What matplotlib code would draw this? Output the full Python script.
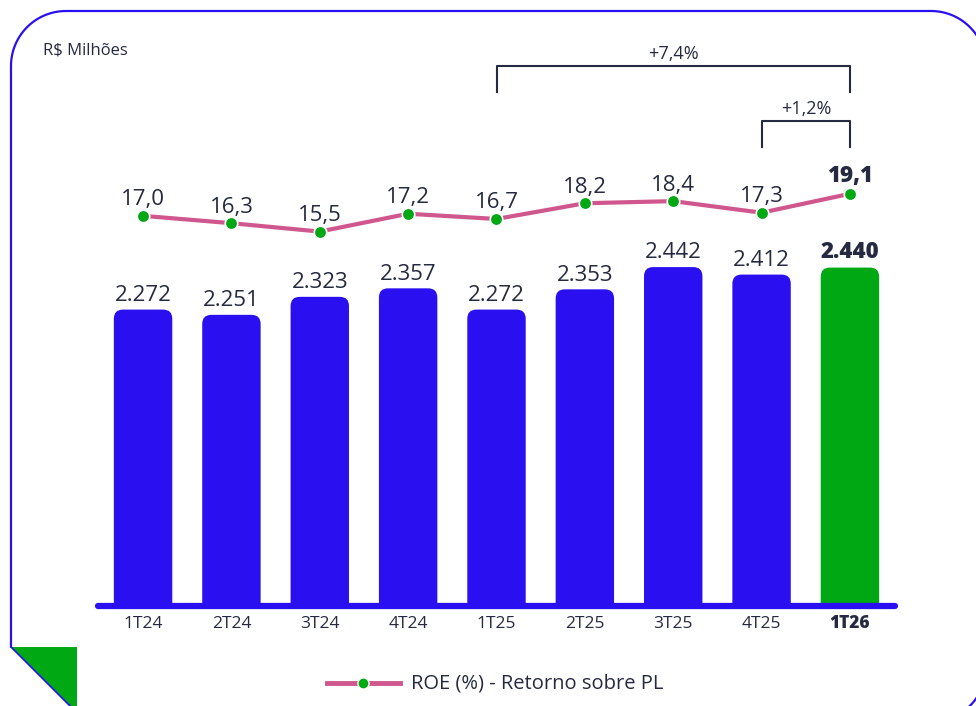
import numpy as np
import matplotlib.pyplot as plt
from matplotlib.patches import FancyBboxPatch, Polygon

plt.rcParams['font.family'] = ['Open Sans', 'DejaVu Sans']

quarters = ["1T24", "2T24", "3T24", "4T24", "1T25", "2T25", "3T25", "4T25", "1T26"]
lucro = [2272, 2251, 2323, 2357, 2272, 2353, 2442, 2412, 2440]
lucro_labels = ["2.272", "2.251", "2.323", "2.357", "2.272", "2.353", "2.442", "2.412", "2.440"]
roe = [17.0, 16.3, 15.5, 17.2, 16.7, 18.2, 18.4, 17.3, 19.1]
roe_labels = ["17,0", "16,3", "15,5", "17,2", "16,7", "18,2", "18,4", "17,3", "19,1"]
brackets = [(4, 8, "+7,4%"), (7, 8, "+1,2%")]

BLUE = "#2a10f0"
GREEN = "#00a814"
PINK = "#d0578e"
DARK = "#262a40"

W, H = 976, 706
fig = plt.figure(figsize=(W / 100, H / 100), dpi=100)

# decoration layer in pixel coords
deco = fig.add_axes([0, 0, 1, 1])
deco.set_xlim(0, W)
deco.set_ylim(H, 0)
deco.axis("off")

R = 55
def arc(cx, cy, a0, a1):
    t = np.radians(np.linspace(a0, a1, 30))
    return np.column_stack([cx + R * np.cos(t), cy + R * np.sin(t)])

left, top, right, bottom = 11, 11, 986, 722
pts = [np.array([[11, 647], [11, top + R]])]
pts.append(arc(left + R, top + R, 180, 270))
pts.append(arc(right - R, top + R, 270, 360))
pts.append(arc(right - R, bottom - R, 0, 90))
border = np.vstack(pts)
deco.plot(border[:, 0], border[:, 1], color=BLUE, lw=1.6, solid_capstyle="round")
deco.add_patch(Polygon([[11, 647], [77, 647], [77, 713]], closed=True, color=GREEN, lw=0))
deco.plot([11, 77], [647, 713], color=BLUE, lw=1.2)

deco.text(43, 51, "R$ Milhões", fontsize=12, color=DARK, va="center", ha="left")

# main axes
ax = fig.add_axes([98 / W, 100 / H, (895 - 98) / W, 576 / H])
ax.set_xlim(-0.51, 8.51)
ybot, ytop = 1083, 3387
ax.set_ylim(ybot, ytop)
ax.axis("off")

x = np.arange(len(quarters))
bw = 0.68
rad_x = 10 / 88.4
rad_y = 10 / 0.25
for i, v in enumerate(lucro):
    col = GREEN if i == len(lucro) - 1 else BLUE
    p = FancyBboxPatch((x[i] - bw / 2, ybot - 100), bw, v - ybot + 100,
                       boxstyle=f"round,pad=0,rounding_size={rad_x}",
                       mutation_aspect=rad_y / rad_x,
                       facecolor=col, edgecolor="white", lw=1.2, clip_on=True)
    ax.add_patch(p)
    bold = i == len(lucro) - 1
    ax.annotate(lucro_labels[i], (x[i], v), xytext=(0, 2), textcoords="offset points",
                ha="center", va="bottom", fontsize=16, color=DARK,
                fontweight="heavy" if bold else "normal")

ax.plot([-0.51, 8.51], [ybot, ybot], color=BLUE, lw=4.5, solid_capstyle="round",
        clip_on=False, zorder=5)

for i, q in enumerate(quarters):
    bold = i == len(quarters) - 1
    ax.text(x[i], ybot - 70, q, ha="center", va="center", fontsize=12.5, color=DARK,
            fontweight="heavy" if bold else "normal")

ax2 = ax.twinx()
ax2.set_ylim(-20.16, 34.70)
ax2.axis("off")
ax2.plot(x, roe, color=PINK, lw=3, zorder=3)
ax2.plot(x, roe, "o", color=GREEN, ms=9, mec="white", mew=1.2, zorder=4)
for i, v in enumerate(roe):
    bold = i == len(roe) - 1
    ax2.annotate(roe_labels[i], (x[i], v), xytext=(0, 4), textcoords="offset points",
                 ha="center", va="bottom", fontsize=16, color=DARK,
                 fontweight="heavy" if bold else "normal")

# brackets, in pixel space of the decoration layer
def px(i):
    return 143 + i * (850 - 143) / 8

for (a, b, lab), ytop_b in zip(brackets, [66, 121]):
    xa, xb = px(a), px(b)
    deco.plot([xa, xa, xb, xb], [ytop_b + 26, ytop_b, ytop_b, ytop_b + 26],
              color=DARK, lw=1.5)
    deco.text((xa + xb) / 2, ytop_b - 12, lab, ha="center", va="center",
              fontsize=13, color=DARK)

# legend
deco.plot([327, 400], [683, 683], color=PINK, lw=3.5)
deco.plot([363], [683], "o", color=GREEN, ms=8, mec="white", mew=1)
deco.text(411, 683, "ROE (%) - Retorno sobre PL", ha="left", va="center",
          fontsize=14.5, color=DARK)

fig.savefig("out.png", dpi=100)
